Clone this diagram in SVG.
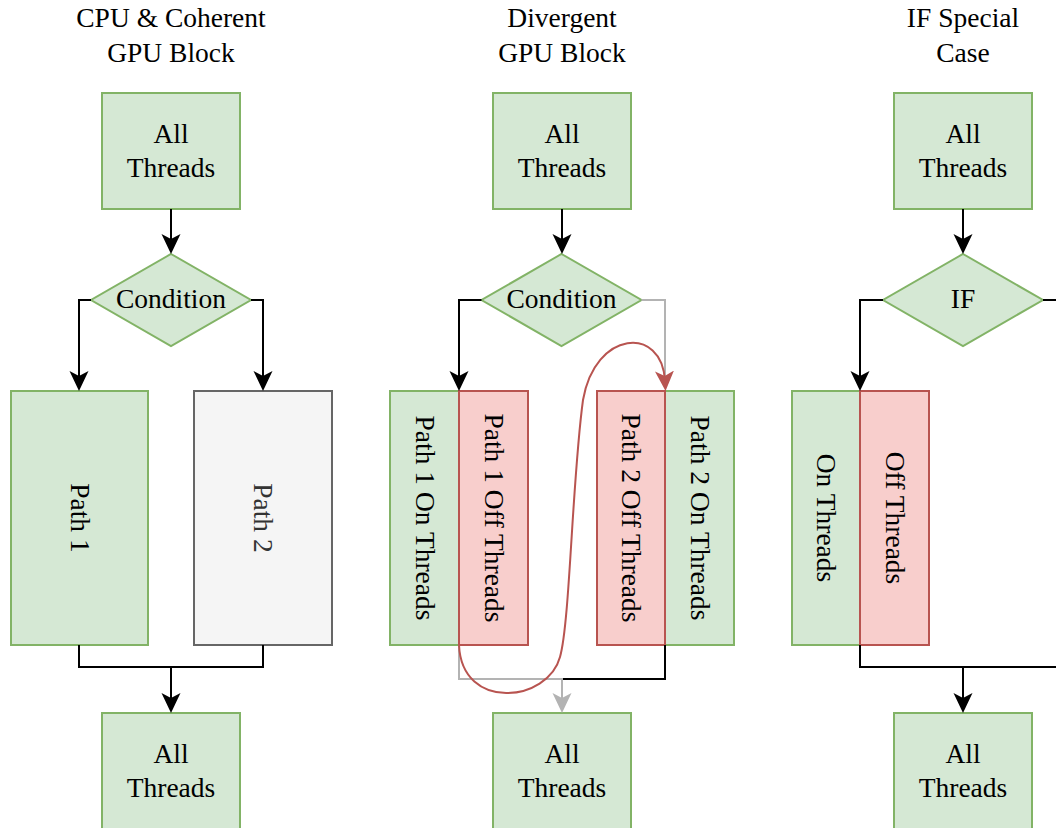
<svg xmlns="http://www.w3.org/2000/svg" width="1056" height="828" viewBox="0 0 1056 828">
<defs>
<style>
text{font-family:"Liberation Serif","Times New Roman",serif;font-size:27.5px;fill:#000;text-anchor:middle}
.g{fill:#d5e8d4;stroke:#82b366;stroke-width:2}
.r{fill:#f8cecc;stroke:#b85450;stroke-width:2}
.n{fill:#f5f5f5;stroke:#666666;stroke-width:2}
.k{fill:none;stroke:#000;stroke-width:2}
.gr{fill:none;stroke:#b3b3b3;stroke-width:2}
.rd{fill:none;stroke:#b85450;stroke-width:2}
</style>
<marker id="ak" markerUnits="userSpaceOnUse" viewBox="0 0 20 20" refX="10" refY="10" markerWidth="20" markerHeight="20" orient="auto"><path d="M0,0.5 L20,10 L0,19.5 L5,10 Z" fill="#000"/></marker>
<marker id="ag" markerUnits="userSpaceOnUse" viewBox="0 0 20 20" refX="10" refY="10" markerWidth="20" markerHeight="20" orient="auto"><path d="M0,0.5 L20,10 L0,19.5 L5,10 Z" fill="#b3b3b3"/></marker>
<marker id="ar" markerUnits="userSpaceOnUse" viewBox="0 0 20 20" refX="10" refY="10" markerWidth="20" markerHeight="20" orient="auto"><path d="M0,0.5 L20,10 L0,19.5 L5,10 Z" fill="#b85450"/></marker>
</defs>
<rect width="1056" height="828" fill="#fff"/>

<g id="titles">
<text x="171" y="27">CPU &amp; Coherent</text>
<text x="171" y="62">GPU Block</text>
<text x="562" y="27">Divergent</text>
<text x="562" y="62">GPU Block</text>
<text x="963" y="27">IF Special</text>
<text x="963" y="62">Case</text>
</g>

<!-- Column 1 -->
<g id="c1-top"><rect class="g" x="102" y="93" width="138" height="116"/><text x="171" y="143">All</text><text x="171" y="177">Threads</text></g>
<g id="c1-cond"><polygon class="g" points="171,254 251,300 171,346 91,300"/><text x="171" y="308">Condition</text></g>
<g id="c1-path1"><rect class="g" x="11" y="391" width="137" height="254"/><text x="79.5" y="527" transform="rotate(90 79.5 518)">Path 1</text></g>
<g id="c1-path2"><rect class="n" x="194" y="391" width="138" height="254"/><text x="263" y="527" transform="rotate(90 263 518)" style="fill:#333333">Path 2</text></g>
<g id="c1-bottom"><rect class="g" x="102" y="713" width="138" height="116"/><text x="171" y="763">All</text><text x="171" y="797">Threads</text></g>

<!-- Column 2 -->
<g id="c2-top"><rect class="g" x="493" y="93" width="138" height="116"/><text x="562" y="143">All</text><text x="562" y="177">Threads</text></g>
<g id="c2-cond"><polygon class="g" points="561.5,254 641.5,300 561.5,346 481.5,300"/><text x="561.5" y="308">Condition</text></g>
<g id="c2-p1on"><rect class="g" x="390" y="391" width="69" height="254"/><text x="424.5" y="527" transform="rotate(90 424.5 518)">Path 1 On Threads</text></g>
<g id="c2-p1off"><rect class="r" x="459" y="391" width="69" height="254"/><text x="493.5" y="527" transform="rotate(90 493.5 518)">Path 1 Off Threads</text></g>
<g id="c2-p2on"><rect class="g" x="665" y="391" width="69" height="254"/><text x="699.5" y="527" transform="rotate(90 699.5 518)">Path 2 On Threads</text></g>
<g id="c2-p2off"><rect class="r" x="597" y="391" width="68" height="254"/><text x="631" y="527" transform="rotate(90 631 518)">Path 2 Off Threads</text></g>
<g id="c2-bottom"><rect class="g" x="493" y="713" width="138" height="116"/><text x="562" y="763">All</text><text x="562" y="797">Threads</text></g>

<!-- Column 3 -->
<g id="c3-top"><rect class="g" x="894" y="93" width="138" height="116"/><text x="963" y="143">All</text><text x="963" y="177">Threads</text></g>
<g id="c3-if"><polygon class="g" points="963,254 1043,300 963,346 883,300"/><text x="963" y="308">IF</text></g>
<g id="c3-on"><rect class="g" x="792" y="391" width="68" height="254"/><text x="826" y="527" transform="rotate(90 826 518)">On Threads</text></g>
<g id="c3-off"><rect class="r" x="860" y="391" width="69" height="254"/><text x="894.5" y="527" transform="rotate(90 894.5 518)">Off Threads</text></g>
<g id="c3-bottom"><rect class="g" x="894" y="713" width="138" height="116"/><text x="963" y="763">All</text><text x="963" y="797">Threads</text></g>

<g id="connectors">
<path class="k" d="M171,209 L171,244" marker-end="url(#ak)"/>
<path class="k" d="M91,300 L79,300 L79,381" marker-end="url(#ak)"/>
<path class="k" d="M251,300 L263,300 L263,381" marker-end="url(#ak)"/>
<path class="k" d="M79,645 L79,667 L263,667 L263,645"/>
<path class="k" d="M171,667 L171,703" marker-end="url(#ak)"/>

<path class="k" d="M562,209 L562,244" marker-end="url(#ak)"/>
<path class="k" d="M481.5,300 L459,300 L459,381" marker-end="url(#ak)"/>
<path class="gr" d="M641.5,300 L665,300 L665,385"/>
<path class="gr" d="M459,645 L459,679 L562,679 L562,703" marker-end="url(#ag)"/>
<path class="k" d="M665,645 L665,679 L563,679"/>
<path class="rd" d="M459,645 C462,712 548,702 560,657 C570,622 572,480 583,400 C595,330 662,325 665,381" marker-end="url(#ar)"/>

<path class="k" d="M963,209 L963,244" marker-end="url(#ak)"/>
<path class="k" d="M883,300 L860,300 L860,381" marker-end="url(#ak)"/>
<path class="k" d="M1043,300 L1056,300"/>
<path class="k" d="M860,645 L860,667 L1056,667"/>
<path class="k" d="M963,667 L963,703" marker-end="url(#ak)"/>
</g>
</svg>
